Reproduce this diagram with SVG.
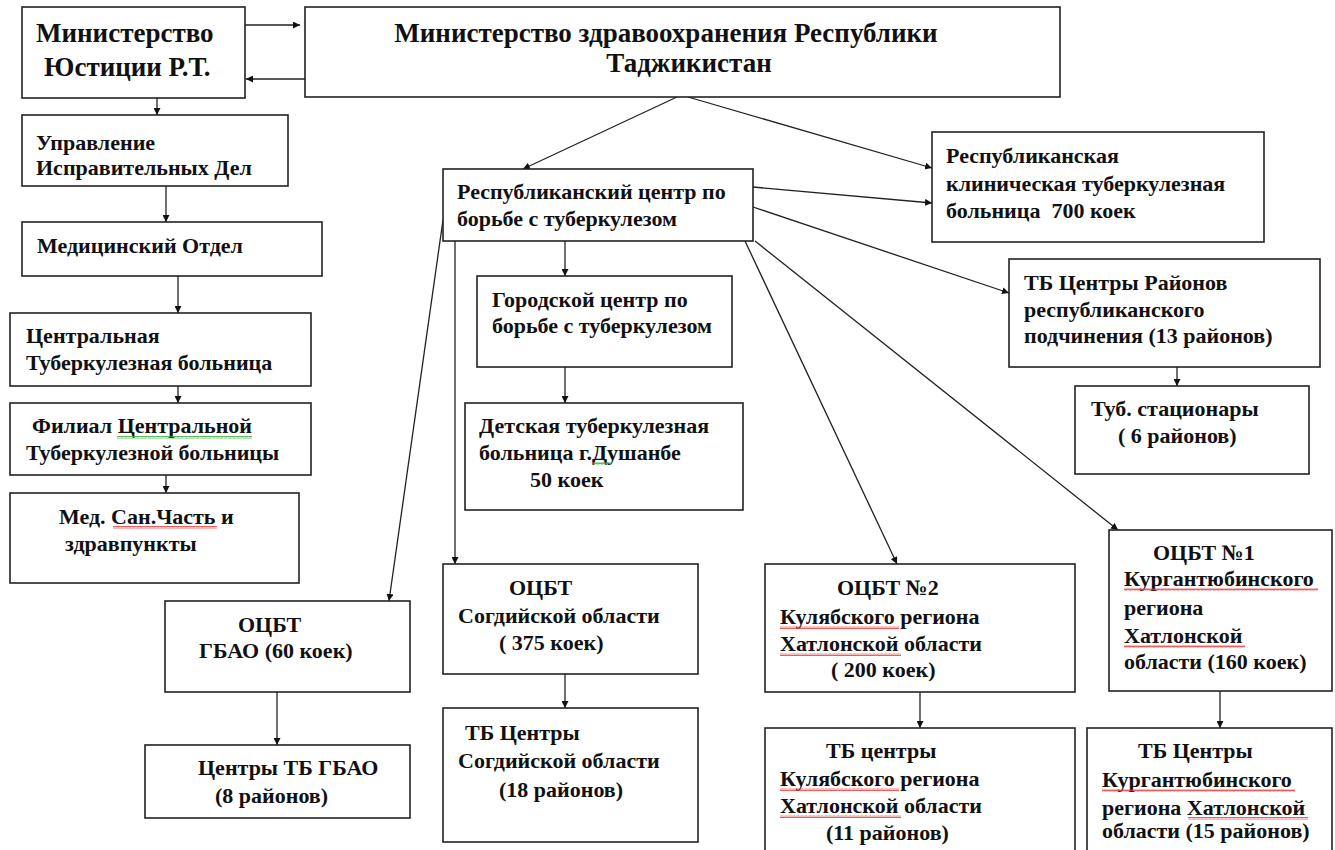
<svg xmlns="http://www.w3.org/2000/svg" width="1335" height="850" viewBox="0 0 1335 850">
<defs>
<marker id="a" viewBox="0 0 10 10" refX="10" refY="5" markerWidth="7" markerHeight="7" markerUnits="userSpaceOnUse" orient="auto"><path d="M0,0L10,5L0,10z" fill="#111"/></marker>
<pattern id="wr" width="4" height="3" patternUnits="userSpaceOnUse"><path d="M0,2.5L1,0.5L2,2.5L3,0.5L4,2.5" stroke="#e33" stroke-width="0.8" fill="none"/></pattern>
<pattern id="wg" width="4" height="3" patternUnits="userSpaceOnUse"><path d="M0,2.5L1,0.5L2,2.5L3,0.5L4,2.5" stroke="#3a3" stroke-width="0.8" fill="none"/></pattern>
</defs>
<rect width="1335" height="850" fill="#fff"/>
<g id="connectors" stroke="#222" stroke-width="1.3" fill="none" marker-end="url(#a)">
<line x1="245" y1="25" x2="300" y2="25"/>
<line x1="305" y1="79" x2="246" y2="79"/>
<line x1="157" y1="98" x2="157" y2="115"/>
<line x1="166" y1="186" x2="166" y2="222"/>
<line x1="178" y1="276" x2="178" y2="313"/>
<line x1="178" y1="386" x2="178" y2="403"/>
<line x1="166" y1="475" x2="166" y2="493"/>
<line x1="677" y1="97" x2="523" y2="169"/>
<line x1="688" y1="97" x2="932" y2="168"/>
<line x1="753" y1="187" x2="932" y2="203"/>
<line x1="753" y1="207" x2="1009" y2="293"/>
<line x1="745" y1="241" x2="897" y2="564"/>
<line x1="755" y1="241" x2="1118" y2="530"/>
<line x1="443" y1="220" x2="389" y2="601"/>
<line x1="455" y1="241" x2="455" y2="564"/>
<line x1="565" y1="241" x2="565" y2="276"/>
<line x1="565" y1="367" x2="565" y2="403"/>
<line x1="1177" y1="367" x2="1177" y2="386"/>
<line x1="277" y1="692" x2="277" y2="745"/>
<line x1="565" y1="674" x2="565" y2="708"/>
<line x1="920" y1="692" x2="920" y2="728"/>
<line x1="1220" y1="691" x2="1220" y2="728"/>
</g>
<g id="nodes" font-family="Liberation Serif" font-weight="bold" font-size="22">
<g id="n-minjust">
<rect x="22" y="7" width="223" height="91" fill="#fff" stroke="#222" stroke-width="1.6"/>
<text font-family="Liberation Serif" font-size="27" fill="#111" x="36" y="42">Министерство</text>
<text font-family="Liberation Serif" font-size="27" fill="#111" x="44" y="76">Юстиции Р.Т.</text>
</g>
<g id="n-minzdrav">
<rect x="305" y="7" width="755" height="90" fill="#fff" stroke="#222" stroke-width="1.6"/>
<text font-family="Liberation Serif" font-size="27" fill="#111" text-anchor="middle" x="666" y="42">Министерство здравоохранения Республики</text>
<text font-family="Liberation Serif" font-size="27" fill="#111" text-anchor="middle" x="689" y="72">Таджикистан</text>
</g>
<g id="n-uid">
<rect x="22" y="115" width="266" height="71" fill="#fff" stroke="#222" stroke-width="1.6"/>
<text font-family="Liberation Serif" fill="#111" x="36" y="150">Управление</text>
<text font-family="Liberation Serif" fill="#111" x="36" y="175">Исправительных Дел</text>
</g>
<g id="n-medotdel">
<rect x="22" y="222" width="300" height="54" fill="#fff" stroke="#222" stroke-width="1.6"/>
<text font-family="Liberation Serif" fill="#111" x="37" y="253">Медицинский Отдел</text>
</g>
<g id="n-ctb">
<rect x="10" y="313" width="301" height="73" fill="#fff" stroke="#222" stroke-width="1.6"/>
<text font-family="Liberation Serif" fill="#111" x="26" y="343">Центральная</text>
<text font-family="Liberation Serif" fill="#111" x="26" y="370">Туберкулезная больница</text>
</g>
<g id="n-filial">
<rect x="10" y="403" width="301" height="72" fill="#fff" stroke="#222" stroke-width="1.6"/>
<text font-family="Liberation Serif" fill="#111" x="32" y="433">Филиал Центральной</text>
<text font-family="Liberation Serif" fill="#111" x="26" y="460">Туберкулезной больницы</text>
<rect fill="url(#wg)" x="117" y="436" width="135" height="3"/>
</g>
<g id="n-medsan">
<rect x="10" y="493" width="289" height="90" fill="#fff" stroke="#222" stroke-width="1.6"/>
<text font-family="Liberation Serif" fill="#111" x="59" y="524">Мед. Сан.Часть и</text>
<text font-family="Liberation Serif" fill="#111" x="65" y="551">здравпункты</text>
<rect fill="url(#wr)" x="113" y="526" width="104" height="3"/>
</g>
<g id="n-rc">
<rect x="443" y="169" width="310" height="72" fill="#fff" stroke="#222" stroke-width="1.6"/>
<text font-family="Liberation Serif" fill="#111" x="457" y="199">Республиканский центр по</text>
<text font-family="Liberation Serif" fill="#111" x="457" y="226">борьбе с туберкулезом</text>
</g>
<g id="n-gc">
<rect x="477" y="276" width="255" height="91" fill="#fff" stroke="#222" stroke-width="1.6"/>
<text font-family="Liberation Serif" fill="#111" x="492" y="307">Городской центр по</text>
<text font-family="Liberation Serif" fill="#111" x="492" y="333">борьбе с туберкулезом</text>
</g>
<g id="n-detsk">
<rect x="465" y="403" width="278" height="107" fill="#fff" stroke="#222" stroke-width="1.6"/>
<text font-family="Liberation Serif" fill="#111" x="479" y="433">Детская туберкулезная</text>
<text font-family="Liberation Serif" fill="#111" x="479" y="460">больница г.Душанбе</text>
<text font-family="Liberation Serif" fill="#111" x="530" y="487">50 коек</text>
<rect fill="url(#wg)" x="593" y="462" width="19" height="3"/>
</g>
<g id="n-rktb">
<rect x="932" y="132" width="332" height="110" fill="#fff" stroke="#222" stroke-width="1.6"/>
<text font-family="Liberation Serif" fill="#111" x="946" y="163">Республиканская</text>
<text font-family="Liberation Serif" fill="#111" x="946" y="191">клиническая туберкулезная</text>
<text font-family="Liberation Serif" fill="#111" x="946" y="218" xml:space="preserve">больница  700 коек</text>
</g>
<g id="n-tbrr">
<rect x="1009" y="259" width="311" height="108" fill="#fff" stroke="#222" stroke-width="1.6"/>
<text font-family="Liberation Serif" fill="#111" x="1024" y="290">ТБ Центры Районов</text>
<text font-family="Liberation Serif" fill="#111" x="1024" y="317">республиканского</text>
<text font-family="Liberation Serif" fill="#111" x="1024" y="343">подчинения (13 районов)</text>
</g>
<g id="n-tubstac">
<rect x="1075" y="386" width="234" height="88" fill="#fff" stroke="#222" stroke-width="1.6"/>
<text font-family="Liberation Serif" fill="#111" x="1091" y="416">Туб. стационары</text>
<text font-family="Liberation Serif" fill="#111" x="1118" y="443">( 6 районов)</text>
</g>
<g id="n-gbao">
<rect x="165" y="601" width="245" height="91" fill="#fff" stroke="#222" stroke-width="1.6"/>
<text font-family="Liberation Serif" fill="#111" x="238" y="632">ОЦБТ</text>
<text font-family="Liberation Serif" fill="#111" x="199" y="658">ГБАО (60 коек)</text>
</g>
<g id="n-gbao-tb">
<rect x="145" y="745" width="265" height="73" fill="#fff" stroke="#222" stroke-width="1.6"/>
<text font-family="Liberation Serif" fill="#111" x="198" y="775">Центры ТБ ГБАО</text>
<text font-family="Liberation Serif" fill="#111" x="215" y="803">(8 районов)</text>
</g>
<g id="n-sogd">
<rect x="443" y="564" width="255" height="110" fill="#fff" stroke="#222" stroke-width="1.6"/>
<text font-family="Liberation Serif" fill="#111" x="509" y="595">ОЦБТ</text>
<text font-family="Liberation Serif" fill="#111" x="458" y="623">Согдийской области</text>
<text font-family="Liberation Serif" fill="#111" x="499" y="650">( 375 коек)</text>
</g>
<g id="n-sogd-tb">
<rect x="443" y="708" width="255" height="134" fill="#fff" stroke="#222" stroke-width="1.6"/>
<text font-family="Liberation Serif" fill="#111" x="465" y="740">ТБ Центры</text>
<text font-family="Liberation Serif" fill="#111" x="458" y="768">Согдийской области</text>
<text font-family="Liberation Serif" fill="#111" x="499" y="797">(18 районов)</text>
</g>
<g id="n-kul">
<rect x="765" y="564" width="310" height="128" fill="#fff" stroke="#222" stroke-width="1.6"/>
<text font-family="Liberation Serif" fill="#111" x="837" y="595">ОЦБТ №2</text>
<text font-family="Liberation Serif" fill="#111" x="780" y="624">Кулябского региона</text>
<text font-family="Liberation Serif" fill="#111" x="780" y="651">Хатлонской области</text>
<text font-family="Liberation Serif" fill="#111" x="831" y="677">( 200 коек)</text>
<rect fill="url(#wr)" x="780" y="626" width="119" height="3"/>
<rect fill="url(#wr)" x="780" y="653" width="121" height="3"/>
</g>
<g id="n-kur">
<rect x="1109" y="530" width="223" height="161" fill="#fff" stroke="#222" stroke-width="1.6"/>
<text font-family="Liberation Serif" fill="#111" x="1153" y="560">ОЦБТ №1</text>
<text font-family="Liberation Serif" fill="#111" x="1124" y="586">Кургантюбинского</text>
<text font-family="Liberation Serif" fill="#111" x="1124" y="615">региона</text>
<text font-family="Liberation Serif" fill="#111" x="1124" y="643">Хатлонской</text>
<text font-family="Liberation Serif" fill="#111" x="1124" y="669">области (160 коек)</text>
<rect fill="url(#wr)" x="1124" y="588" width="194" height="3"/>
<rect fill="url(#wr)" x="1124" y="645" width="121" height="3"/>
</g>
<g id="n-kul-tb">
<rect x="765" y="728" width="310" height="130" fill="#fff" stroke="#222" stroke-width="1.6"/>
<text font-family="Liberation Serif" fill="#111" x="826" y="758">ТБ центры</text>
<text font-family="Liberation Serif" fill="#111" x="780" y="786">Кулябского региона</text>
<text font-family="Liberation Serif" fill="#111" x="780" y="813">Хатлонской области</text>
<text font-family="Liberation Serif" fill="#111" x="826" y="840">(11 районов)</text>
<rect fill="url(#wr)" x="780" y="788" width="119" height="3"/>
<rect fill="url(#wr)" x="780" y="815" width="121" height="3"/>
</g>
<g id="n-kur-tb">
<rect x="1087" y="728" width="245" height="130" fill="#fff" stroke="#222" stroke-width="1.6"/>
<text font-family="Liberation Serif" fill="#111" x="1138" y="758">ТБ Центры</text>
<text font-family="Liberation Serif" fill="#111" x="1102" y="787">Кургантюбинского</text>
<text font-family="Liberation Serif" fill="#111" x="1102" y="815">региона Хатлонской</text>
<text font-family="Liberation Serif" fill="#111" x="1102" y="838">области (15 районов)</text>
<rect fill="url(#wr)" x="1102" y="789" width="193" height="3"/>
<rect fill="url(#wr)" x="1188" y="817" width="120" height="3"/>
</g>
</g>
</svg>
